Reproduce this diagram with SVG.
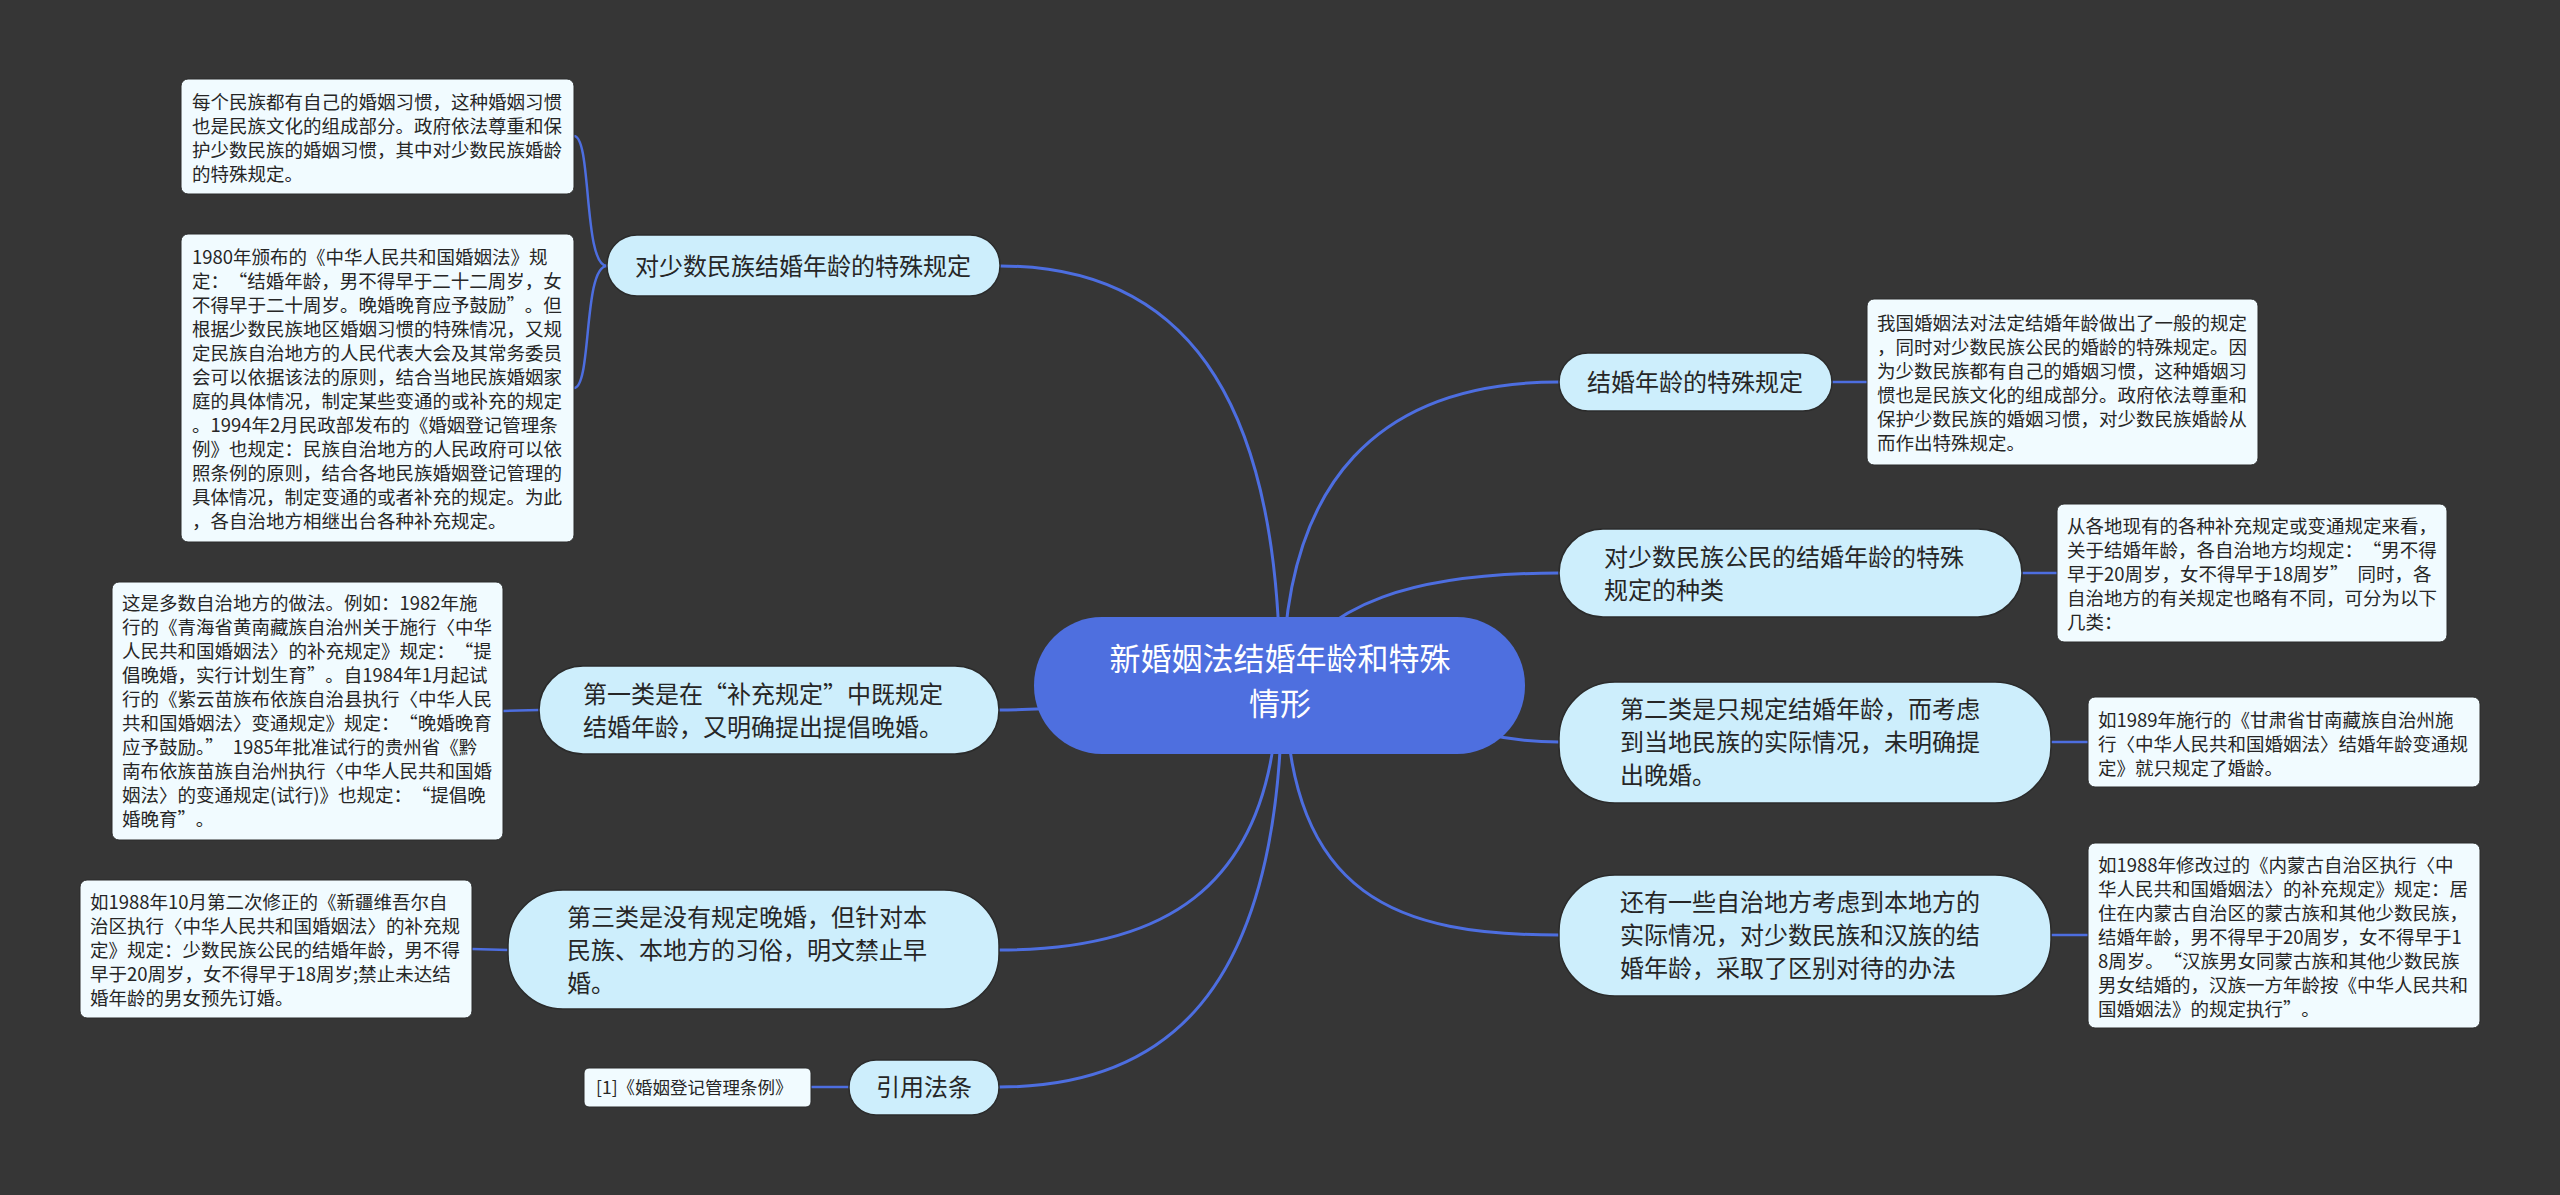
<svg xmlns="http://www.w3.org/2000/svg" width="2560" height="1195" viewBox="0 0 2560 1195">
<style>
.bg{fill:#363636}
.edge{fill:none;stroke:#4d6ee0;stroke-width:3}
.edge2{fill:none;stroke:#4d6ee0;stroke-width:2.5}
.root rect{fill:#4e6fdf}
.root text{fill:#ffffff;font-size:31px;text-anchor:middle}
.branch rect{fill:#cdeefc;stroke:#2b2b2b;stroke-width:1.5}
.branch text{fill:#262626;font-size:24px}
.leaf rect{fill:#f1fbff;stroke:#2b2b2b;stroke-width:1}
.leaf text{fill:#262626;font-size:18.5px}
text{font-family:"Noto Sans CJK SC","Noto Sans",sans-serif}
</style>
<rect class="bg" x="0" y="0" width="2560" height="1195"/>
<g id="connectors">
<path class="edge" d="M1280,685 C1280,420 1200,266 1000,266"/>
<path class="edge" d="M1283,685 C1283,480 1380,382 1559,382"/>
<path class="edge" d="M1280,685 C1320,600 1420,573 1559,573"/>
<path class="edge" d="M1280,700 C1100,705 1050,710 999,710"/>
<path class="edge" d="M1280,685 C1420,690 1440,742 1559,742"/>
<path class="edge" d="M1285,685 C1288,900 1400,935 1559,935"/>
<path class="edge" d="M1278,685 C1275,900 1150,950 999,950"/>
<path class="edge" d="M1282,685 C1282,1000 1160,1087 999,1087"/>
<path class="edge2" d="M607,266 C583,266 592,136 574,136"/>
<path class="edge2" d="M607,266 C583,266 592,388 574,388"/>
<path class="edge2" d="M539,710 L503,711"/>
<path class="edge2" d="M508,950 L472,949"/>
<path class="edge2" d="M849,1087 L811,1087"/>
<path class="edge2" d="M1832,382 L1867,382"/>
<path class="edge2" d="M2022,573 L2057,573"/>
<path class="edge2" d="M2051,742 L2088,742"/>
<path class="edge2" d="M2051,935 L2088,935"/>
</g>
<g id="root" class="root">
<rect x="1034" y="617" width="491" height="137" rx="68"/>
<text x="1280" y="670">新婚姻法结婚年龄和特殊</text>
<text x="1280" y="715">情形</text>
</g>
<g id="b1" class="branch">
<rect x="607" y="235" width="393" height="61" rx="30"/>
<text x="803" y="275" text-anchor="middle">对少数民族结婚年龄的特殊规定</text>
</g>
<g id="b2" class="branch">
<rect x="539" y="666" width="460" height="88" rx="44"/>
<text x="583" y="703">第一类是在“补充规定”中既规定</text>
<text x="583" y="736">结婚年龄，又明确提出提倡晚婚。</text>
</g>
<g id="b3" class="branch">
<rect x="508" y="890" width="491" height="119" rx="55"/>
<text x="567" y="926">第三类是没有规定晚婚，但针对本</text>
<text x="567" y="959">民族、本地方的习俗，明文禁止早</text>
<text x="567" y="992">婚。</text>
</g>
<g id="b4" class="branch">
<rect x="849" y="1060" width="150" height="55" rx="27"/>
<text x="924" y="1096" text-anchor="middle">引用法条</text>
</g>
<g id="b5" class="branch">
<rect x="1559" y="353" width="273" height="58" rx="29"/>
<text x="1695" y="391" text-anchor="middle">结婚年龄的特殊规定</text>
</g>
<g id="b6" class="branch">
<rect x="1559" y="529" width="463" height="88" rx="44"/>
<text x="1604" y="566">对少数民族公民的结婚年龄的特殊</text>
<text x="1604" y="599">规定的种类</text>
</g>
<g id="b7" class="branch">
<rect x="1559" y="682" width="492" height="121" rx="56"/>
<text x="1620" y="718">第二类是只规定结婚年龄，而考虑</text>
<text x="1620" y="751">到当地民族的实际情况，未明确提</text>
<text x="1620" y="784">出晚婚。</text>
</g>
<g id="b8" class="branch">
<rect x="1559" y="875" width="492" height="121" rx="56"/>
<text x="1620" y="911">还有一些自治地方考虑到本地方的</text>
<text x="1620" y="944">实际情况，对少数民族和汉族的结</text>
<text x="1620" y="977">婚年龄，采取了区别对待的办法</text>
</g>
<g id="l1" class="leaf">
<rect x="181" y="79" width="393" height="115" rx="7"/>
<text x="192" y="109">每个民族都有自己的婚姻习惯，这种婚姻习惯</text>
<text x="192" y="133">也是民族文化的组成部分。政府依法尊重和保</text>
<text x="192" y="157">护少数民族的婚姻习惯，其中对少数民族婚龄</text>
<text x="192" y="181">的特殊规定。</text>
</g>
<g id="l2" class="leaf">
<rect x="181" y="234" width="393" height="308" rx="7"/>
<text x="192" y="264">1980年颁布的《中华人民共和国婚姻法》规</text>
<text x="192" y="288">定：<tspan dx="9">“结婚年龄，男不得早于二十二周岁，女</tspan></text>
<text x="192" y="312">不得早于二十周岁。晚婚晚育应予鼓励”<tspan dx="9">。但</tspan></text>
<text x="192" y="336">根据少数民族地区婚姻习惯的特殊情况，又规</text>
<text x="192" y="360">定民族自治地方的人民代表大会及其常务委员</text>
<text x="192" y="384">会可以依据该法的原则，结合当地民族婚姻家</text>
<text x="192" y="408">庭的具体情况，制定某些变通的或补充的规定</text>
<text x="192" y="432">。1994年2月民政部发布的《婚姻登记管理条</text>
<text x="192" y="456">例》也规定：民族自治地方的人民政府可以依</text>
<text x="192" y="480">照条例的原则，结合各地民族婚姻登记管理的</text>
<text x="192" y="504">具体情况，制定变通的或者补充的规定。为此</text>
<text x="192" y="528">，各自治地方相继出台各种补充规定。</text>
</g>
<g id="l3" class="leaf">
<rect x="112" y="582" width="391" height="258" rx="7"/>
<text x="122" y="610">这是多数自治地方的做法。例如：1982年施</text>
<text x="122" y="634">行的《青海省黄南藏族自治州关于施行〈中华</text>
<text x="122" y="658">人民共和国婚姻法〉的补充规定》规定：<tspan dx="9">“提</tspan></text>
<text x="122" y="682">倡晚婚，实行计划生育”<tspan dx="9">。自1984年1月起试</tspan></text>
<text x="122" y="706">行的《紫云苗族布依族自治县执行〈中华人民</text>
<text x="122" y="730">共和国婚姻法〉变通规定》规定：<tspan dx="9">“晚婚晚育</tspan></text>
<text x="122" y="754">应予鼓励。”<tspan dx="9">1985年批准试行的贵州省《黔</tspan></text>
<text x="122" y="778">南布依族苗族自治州执行〈中华人民共和国婚</text>
<text x="122" y="802">姻法〉的变通规定(试行)》也规定：<tspan dx="9">“提倡晚</tspan></text>
<text x="122" y="826">婚晚育”<tspan dx="9">。</tspan></text>
</g>
<g id="l4" class="leaf">
<rect x="80" y="880" width="392" height="138" rx="7"/>
<text x="90" y="909">如1988年10月第二次修正的《新疆维吾尔自</text>
<text x="90" y="933">治区执行〈中华人民共和国婚姻法〉的补充规</text>
<text x="90" y="957">定》规定：少数民族公民的结婚年龄，男不得</text>
<text x="90" y="981">早于20周岁，女不得早于18周岁;禁止未达结</text>
<text x="90" y="1005">婚年龄的男女预先订婚。</text>
</g>
<g id="l5" class="leaf">
<rect x="584" y="1068" width="227" height="39" rx="5"/>
<text x="596" y="1094" style="font-size:17.5px">[1]《婚姻登记管理条例》</text>
</g>
<g id="r1" class="leaf">
<rect x="1867" y="299" width="391" height="166" rx="7"/>
<text x="1877" y="330">我国婚姻法对法定结婚年龄做出了一般的规定</text>
<text x="1877" y="354">，同时对少数民族公民的婚龄的特殊规定。因</text>
<text x="1877" y="378">为少数民族都有自己的婚姻习惯，这种婚姻习</text>
<text x="1877" y="402">惯也是民族文化的组成部分。政府依法尊重和</text>
<text x="1877" y="426">保护少数民族的婚姻习惯，对少数民族婚龄从</text>
<text x="1877" y="450">而作出特殊规定。</text>
</g>
<g id="r2" class="leaf">
<rect x="2057" y="504" width="390" height="138" rx="7"/>
<text x="2067" y="533">从各地现有的各种补充规定或变通规定来看，</text>
<text x="2067" y="557">关于结婚年龄，各自治地方均规定：<tspan dx="9">“男不得</tspan></text>
<text x="2067" y="581">早于20周岁，女不得早于18周岁”<tspan dx="9">同时，各</tspan></text>
<text x="2067" y="605">自治地方的有关规定也略有不同，可分为以下</text>
<text x="2067" y="629">几类：</text>
</g>
<g id="r3" class="leaf">
<rect x="2088" y="697" width="392" height="90" rx="7"/>
<text x="2098" y="727">如1989年施行的《甘肃省甘南藏族自治州施</text>
<text x="2098" y="751">行〈中华人民共和国婚姻法〉结婚年龄变通规</text>
<text x="2098" y="775">定》就只规定了婚龄。</text>
</g>
<g id="r4" class="leaf">
<rect x="2088" y="843" width="392" height="185" rx="7"/>
<text x="2098" y="872">如1988年修改过的《内蒙古自治区执行〈中</text>
<text x="2098" y="896">华人民共和国婚姻法〉的补充规定》规定：居</text>
<text x="2098" y="920">住在内蒙古自治区的蒙古族和其他少数民族，</text>
<text x="2098" y="944">结婚年龄，男不得早于20周岁，女不得早于1</text>
<text x="2098" y="968">8周岁。<tspan dx="9">“汉族男女同蒙古族和其他少数民族</tspan></text>
<text x="2098" y="992">男女结婚的，汉族一方年龄按《中华人民共和</text>
<text x="2098" y="1016">国婚姻法》的规定执行”<tspan dx="9">。</tspan></text>
</g>
</svg>
